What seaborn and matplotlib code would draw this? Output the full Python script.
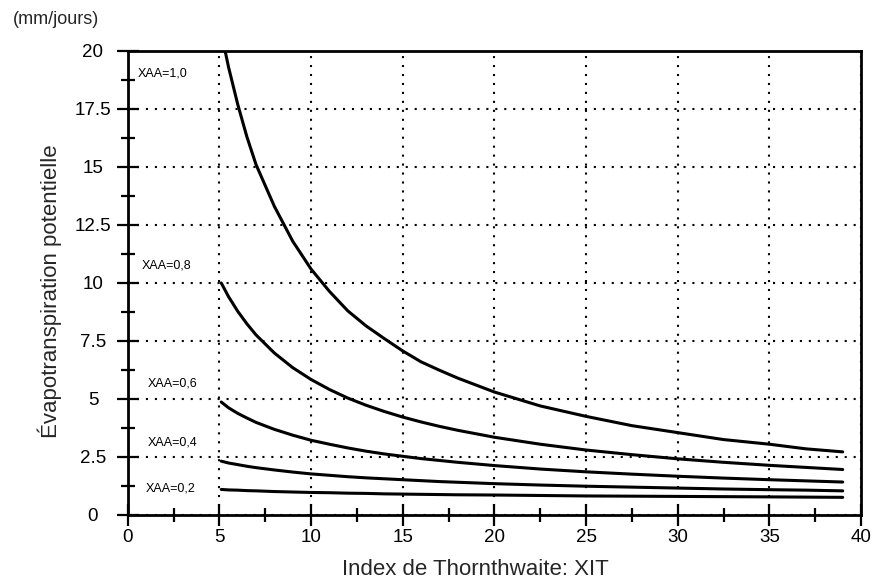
import numpy as np
import pandas as pd
import matplotlib
matplotlib.use("Agg")
import matplotlib.pyplot as plt
import seaborn as sns
from matplotlib.ticker import MultipleLocator, FuncFormatter

# Index de Thornthwaite (XIT) and ETP (mm/jours)
xit = [5.1, 5.5, 6, 6.5, 7, 8, 9, 10, 11, 12, 13, 14, 15, 16, 17, 18, 20, 22.5, 25, 27.5,
       30, 32.5, 35, 37, 39]
etp_xaa_10 = [20.8, 19.3, 17.7, 16.3, 15.1, 13.3, 11.8, 10.6, 9.64, 8.8, 8.15, 7.6, 7.07, 6.6,
              6.24, 5.9, 5.3, 4.7, 4.25, 3.85, 3.55, 3.25, 3.05, 2.85, 2.72]
etp_xaa_08 = [10.0, 9.41, 8.78, 8.24, 7.76, 6.98, 6.35, 5.84, 5.41, 5.04, 4.73, 4.46, 4.22, 4.01,
              3.82, 3.65, 3.35, 3.05, 2.80, 2.60, 2.42, 2.27, 2.14, 2.05, 1.96]
etp_xaa_06 = [4.87, 4.62, 4.38, 4.18, 3.99, 3.69, 3.44, 3.22, 3.05, 2.89, 2.75, 2.63, 2.53, 2.43,
              2.35, 2.27, 2.13, 1.98, 1.86, 1.76, 1.67, 1.59, 1.52, 1.47, 1.42]
etp_xaa_04 = [2.32, 2.24, 2.17, 2.10, 2.04, 1.94, 1.85, 1.77, 1.71, 1.65, 1.60, 1.56, 1.52, 1.48,
              1.44, 1.41, 1.35, 1.29, 1.24, 1.20, 1.16, 1.12, 1.09, 1.07, 1.04]
etp_xaa_02 = [1.10, 1.08, 1.07, 1.05, 1.04, 1.01, 0.99, 0.97, 0.96, 0.94, 0.93, 0.91, 0.90, 0.89,
              0.88, 0.87, 0.86, 0.84, 0.82, 0.81, 0.80, 0.79, 0.78, 0.77, 0.76]

series_names = ["XAA=1,0", "XAA=0,8", "XAA=0,6", "XAA=0,4", "XAA=0,2"]
series_values = [etp_xaa_10, etp_xaa_08, etp_xaa_06, etp_xaa_04, etp_xaa_02]

df = pd.concat(
    [pd.DataFrame({"XIT": xit, "ETP": vals, "XAA": name})
     for name, vals in zip(series_names, series_values)],
    ignore_index=True,
)

sns.set_style("ticks")
plt.rcParams["font.family"] = ["Liberation Sans", "DejaVu Sans"]

fig = plt.figure(figsize=(8.73, 5.85), dpi=100)
ax = fig.add_axes([0.1463, 0.1197, 0.840, 0.7932])

sns.lineplot(data=df, x="XIT", y="ETP", hue="XAA", palette=["black"] * 5,
             legend=False, linewidth=2.2, estimator=None, sort=False, ax=ax)

ax.set_xlim(0, 40)
ax.set_ylim(0, 20)
ax.xaxis.set_major_locator(MultipleLocator(5))
ax.xaxis.set_minor_locator(MultipleLocator(2.5))
ax.yaxis.set_major_locator(MultipleLocator(2.5))
ax.yaxis.set_minor_locator(MultipleLocator(1.25))
ax.yaxis.set_major_formatter(FuncFormatter(lambda v, p: f"{v:g}"))

ax.grid(True, which="major", color="black", linestyle=(0, (1, 3.3)), linewidth=1.5)
for s in ax.spines.values():
    s.set_visible(True)
    s.set_linewidth(2)
    s.set_color("black")

ax.tick_params(which="major", direction="inout", length=16, width=1.6,
               labelsize=13.5, colors="black")
ax.tick_params(which="minor", direction="inout", length=10, width=1.6, colors="black")
ax.tick_params(axis="x", which="major", pad=2)
ax.tick_params(axis="y", which="major", pad=17)
for lab in ax.get_yticklabels():
    lab.set_horizontalalignment("center")

ax.set_xlabel("Index de Thornthwaite: XIT", fontsize=16)
ax.set_ylabel("Évapotranspiration potentielle", fontsize=16)
ax.xaxis.set_label_coords(0.4736, -0.0948)
ax.yaxis.set_label_coords(-0.0896, 0.483)

label_y = [19.03, 10.75, 5.66, 3.13, 1.15]
label_x = [0.57, 0.76, 1.07, 1.07, 0.98]
for name, lx, ly in zip(series_names, label_x, label_y):
    ax.text(lx, ly, name, fontsize=9, ha="left", va="center", color="black")

fig.text(13 / 873, 1 - 19.5 / 585, "(mm/jours)", fontsize=13, ha="left", va="center")

fig.savefig("out.png", dpi=100)
